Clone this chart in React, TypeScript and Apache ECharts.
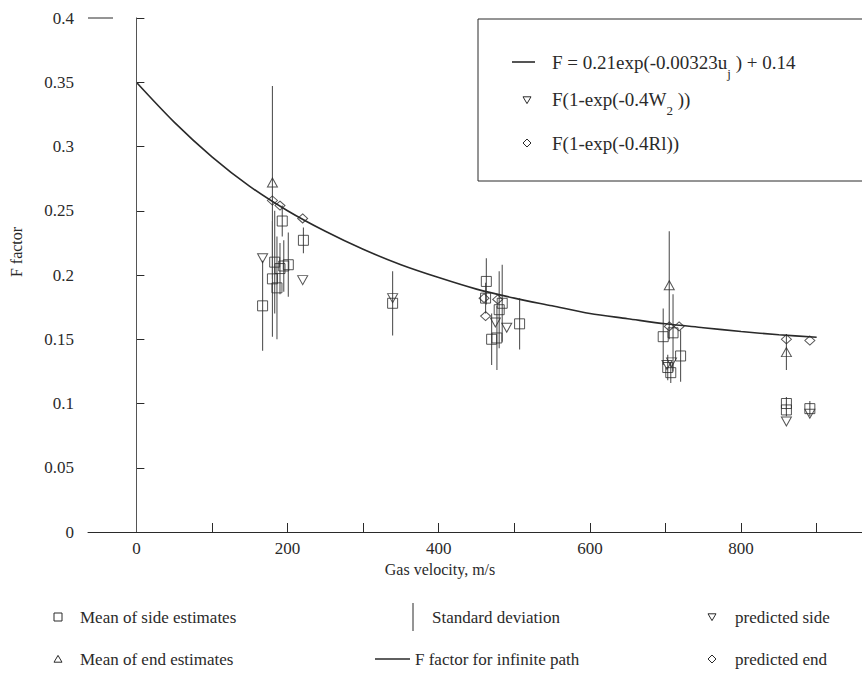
import React, { useEffect, useRef } from "react";
import * as echarts from "echarts";

// Mean of side estimates: velocity, F, standard deviation
const sideU = [167, 180, 183, 186, 190, 195, 201, 193, 221, 339, 463, 462, 480, 484, 507, 470, 477, 697, 720, 703, 707, 710, 860, 860, 891];
const sideF = [0.176, 0.197, 0.21, 0.19, 0.205, 0.207, 0.208, 0.242, 0.227, 0.178, 0.195, 0.182, 0.173, 0.178, 0.162, 0.15, 0.151, 0.152, 0.137, 0.128, 0.124, 0.155, 0.1, 0.095, 0.096];
const sideSd = [0.035, 0.045, 0.04, 0.04, 0.02, 0.02, 0.025, 0.012, 0.01, 0.025, 0.018, 0.012, 0.03, 0.03, 0.02, 0.02, 0.025, 0.022, 0.02, 0.01, 0.008, 0.03, 0.005, 0.005, 0.006];

// Mean of end estimates
const endU = [180, 705, 860];
const endF = [0.272, 0.192, 0.14];
const endSd = [0.075, 0.042, 0.014];

// Predicted side
const predSideU = [167, 220, 339, 490, 475, 702, 708, 860, 891];
const predSideF = [0.213, 0.196, 0.182, 0.159, 0.163, 0.13, 0.132, 0.086, 0.092];

// Predicted end
const predEndU = [180, 190, 220, 460, 462, 478, 705, 718, 860, 891];
const predEndF = [0.258, 0.254, 0.244, 0.182, 0.168, 0.181, 0.16, 0.16, 0.15, 0.149];

// F factor for infinite path (curve)
const curveU = [0, 50, 100, 150, 200, 250, 300, 350, 400, 450, 500, 550, 600, 650, 700, 750, 800, 850, 900];
const curveF = [0.35, 0.319, 0.292, 0.269, 0.25, 0.234, 0.22, 0.208, 0.198, 0.189, 0.182, 0.176, 0.17, 0.166, 0.162, 0.159, 0.156, 0.1535, 0.1515];

const xTicks = [0, 100, 200, 300, 400, 500, 600, 700, 800, 900];
const xLabels = [0, 200, 400, 600, 800];

const FONT = "Liberation Serif, Times New Roman, serif";
const INK = "#2a2a2a";

function textW(t: string, size: number) {
  const c = document.createElement("canvas").getContext("2d")!;
  c.font = `${size}px "Liberation Serif"`;
  return c.measureText(t).width;
}

export default function App() {
  const ref = useRef<HTMLDivElement>(null);
  useEffect(() => {
    const chart = echarts.init(ref.current!, null, { renderer: "svg" });

    const errData = [
      ...sideU.map((u, i) => [u, sideF[i], sideSd[i]]),
      ...endU.map((u, i) => [u, endF[i], endSd[i]]),
    ];

    const txt = (x: number, y: number, text: string, size = 17, extra: any = {}) => ({
      type: "text",
      x,
      y,
      z: 10,
      silent: true,
      style: { text, fontFamily: FONT, fontSize: size, fill: INK, verticalAlign: "middle", align: "left", ...extra },
    });
    const downTri = (cx: number, cy: number, s: number) => ({
      type: "polygon",
      silent: true,
      z: 10,
      shape: { points: [[cx - s, cy - s * 0.8], [cx + s, cy - s * 0.8], [cx, cy + s * 0.9]] },
      style: { fill: "none", stroke: INK, lineWidth: 1 },
    });
    const upTri = (cx: number, cy: number, s: number) => ({
      type: "polygon",
      silent: true,
      z: 10,
      shape: { points: [[cx - s, cy + s * 0.8], [cx + s, cy + s * 0.8], [cx, cy - s * 0.9]] },
      style: { fill: "none", stroke: INK, lineWidth: 1 },
    });
    const diamond = (cx: number, cy: number, s: number) => ({
      type: "polygon",
      silent: true,
      z: 10,
      shape: { points: [[cx - s, cy], [cx, cy - s], [cx + s, cy], [cx, cy + s]] },
      style: { fill: "none", stroke: INK, lineWidth: 1 },
    });

    // Legend box texts with subscripts
    const bs = 19;
    const ss = 13;
    const l1a = "F = 0.21exp(-0.00323u";
    const l1b = " ) + 0.14";
    const l2a = "F(1-exp(-0.4W";
    const l2b = " ))";
    const x0 = 552;
    const w1a = textW(l1a, bs);
    const w2a = textW(l2a, bs);
    const subW = textW("j", ss);
    const subW2 = textW("2", ss);

    const option: any = {
      animation: false,
      backgroundColor: "#fff",
      grid: { left: 88, top: 18, right: 0, bottom: 147 },
      xAxis: {
        type: "value",
        min: -64,
        max: 960,
        axisLine: { show: true, onZero: false, lineStyle: { color: INK, width: 1 } },
        axisTick: { show: true, inside: true, length: 9, customValues: xTicks, lineStyle: { color: INK } },
        axisLabel: { customValues: xLabels, fontFamily: FONT, fontSize: 17, color: INK, margin: 8 },
        splitLine: { show: false },
      },
      yAxis: {
        type: "value",
        min: 0,
        max: 0.4,
        interval: 0.05,
        axisLine: { show: true, lineStyle: { color: INK, width: 1 } },
        axisTick: { show: true, inside: true, length: 8, lineStyle: { color: INK } },
        axisLabel: {
          fontFamily: FONT,
          fontSize: 17,
          color: INK,
          margin: 14,
          formatter: (v: number) => String(+v.toFixed(2)),
        },
        splitLine: { show: false },
      },
      series: [
        {
          type: "custom",
          name: "Standard deviation",
          data: errData,
          encode: { x: 0, y: 1 },
          z: 2,
          renderItem: (params: any, api: any) => {
            const u = api.value(0);
            const m = api.value(1);
            const s = api.value(2);
            const p1 = api.coord([u, m - s]);
            const p2 = api.coord([u, m + s]);
            return {
              type: "line",
              shape: { x1: p1[0], y1: p1[1], x2: p2[0], y2: p2[1] },
              style: { stroke: "#555", lineWidth: 1.1 },
            };
          },
        },
        {
          type: "line",
          name: "F factor for infinite path",
          data: curveU.map((u, i) => [u, curveF[i]]),
          smooth: 0.3,
          showSymbol: false,
          z: 3,
          lineStyle: { color: INK, width: 1.6 },
          markLine: {
            silent: true,
            symbol: ["none", "none"],
            label: { show: false },
            lineStyle: { color: "#555", width: 1, type: "solid" },
            data: [{ xAxis: 0 }],
          },
        },
        {
          type: "scatter",
          name: "Mean of side estimates",
          data: sideU.map((u, i) => [u, sideF[i]]),
          symbol: "rect",
          symbolSize: 10,
          z: 4,
          itemStyle: { color: "rgba(255,255,255,0)", borderColor: INK, borderWidth: 1 },
        },
        {
          type: "scatter",
          name: "Mean of end estimates",
          data: endU.map((u, i) => [u, endF[i]]),
          symbol: "triangle",
          symbolSize: [10, 9],
          z: 4,
          itemStyle: { color: "rgba(255,255,255,0)", borderColor: INK, borderWidth: 1 },
        },
        {
          type: "scatter",
          name: "predicted side",
          data: predSideU.map((u, i) => [u, predSideF[i]]),
          symbol: "triangle",
          symbolRotate: 180,
          symbolSize: [10, 9],
          z: 4,
          itemStyle: { color: "rgba(255,255,255,0)", borderColor: INK, borderWidth: 1 },
        },
        {
          type: "scatter",
          name: "predicted end",
          data: predEndU.map((u, i) => [u, predEndF[i]]),
          symbol: "diamond",
          symbolSize: [10, 9],
          z: 4,
          itemStyle: { color: "rgba(255,255,255,0)", borderColor: INK, borderWidth: 1 },
        },
      ],
      graphic: [
        // short top frame stub
        { type: "line", silent: true, shape: { x1: 88, y1: 18, x2: 113, y2: 18 }, style: { stroke: INK, lineWidth: 1 } },
        // legend box
        { type: "rect", silent: true, z: 5, shape: { x: 478, y: 19, width: 400, height: 162 }, style: { fill: "#fff", stroke: INK, lineWidth: 1 } },
        { type: "line", silent: true, z: 10, shape: { x1: 512, y1: 62, x2: 535, y2: 62 }, style: { stroke: INK, lineWidth: 1.6 } },
        txt(x0, 62, l1a, bs),
        txt(x0 + w1a, 73, "j", ss),
        txt(x0 + w1a + subW, 62, l1b, bs),
        downTri(527, 100, 4),
        txt(x0, 99, l2a, bs),
        txt(x0 + w2a, 110, "2", ss),
        txt(x0 + w2a + subW2, 99, l2b, bs),
        diamond(527, 143, 4),
        txt(x0, 143, "F(1-exp(-0.4Rl))", bs),
        // axis names
        txt(440, 569, "Gas velocity, m/s", 16, { align: "center" }),
        { ...txt(16, 252, "F factor", 16, { align: "center" }), rotation: Math.PI / 2 },
        // bottom legend row 1
        { type: "rect", silent: true, z: 10, shape: { x: 54, y: 613, width: 8, height: 8 }, style: { fill: "none", stroke: INK, lineWidth: 1 } },
        txt(80, 617, "Mean of side estimates"),
        { type: "line", silent: true, z: 10, shape: { x1: 413, y1: 603, x2: 413, y2: 631 }, style: { stroke: INK, lineWidth: 1 } },
        txt(432, 617, "Standard deviation"),
        downTri(712, 617, 4),
        txt(735, 617, "predicted side"),
        // bottom legend row 2
        upTri(58, 659, 4),
        txt(80, 659, "Mean of end estimates"),
        { type: "line", silent: true, z: 10, shape: { x1: 375, y1: 659, x2: 410, y2: 659 }, style: { stroke: INK, lineWidth: 1.4 } },
        txt(415, 659, "F factor for infinite path"),
        diamond(712, 659, 4),
        txt(735, 659, "predicted end"),
      ],
    };
    chart.setOption(option);
    return () => chart.dispose();
  }, []);
  return (
    <div
      ref={ref}
      style={{ position: "fixed", left: 0, top: 0, width: 862, height: 679, background: "#fff" }}
    />
  );
}
